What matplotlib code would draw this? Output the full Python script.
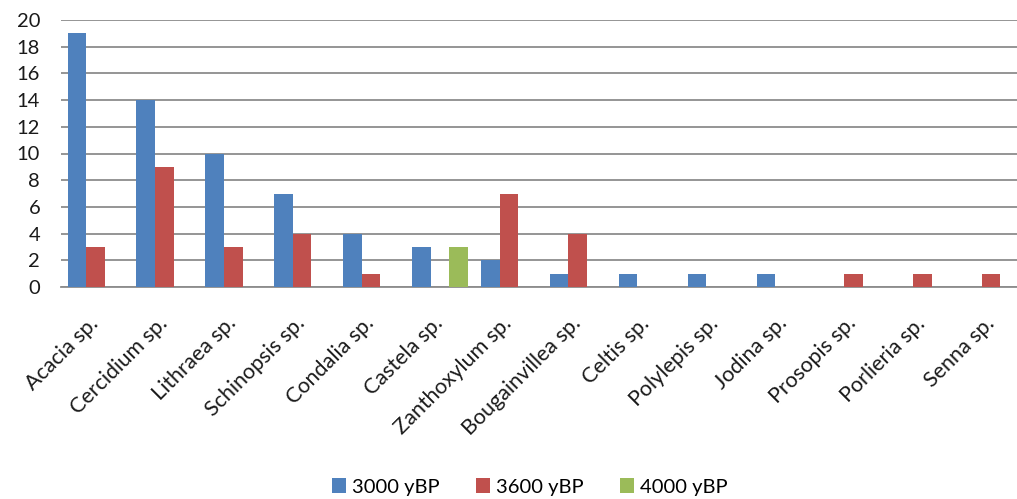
import numpy as np
import matplotlib.pyplot as plt

plt.rcParams['font.family'] = ['Lato', 'DejaVu Sans']

# Taxa and counts per period
taxa = ['Acacia sp.', 'Cercidium sp.', 'Lithraea sp.', 'Schinopsis sp.', 'Condalia sp.',
        'Castela sp.', 'Zanthoxylum sp.', 'Bougainvillea sp.', 'Celtis sp.', 'Polylepis sp.',
        'Jodina sp.', 'Prosopis sp.', 'Porlieria sp.', 'Senna sp.']
y3000 = [19, 14, 10, 7, 4, 3, 2, 1, 1, 1, 1, 0, 0, 0]
y3600 = [3, 9, 3, 4, 1, 0, 7, 4, 0, 0, 0, 1, 1, 1]
y4000 = [0, 0, 0, 0, 0, 3, 0, 0, 0, 0, 0, 0, 0, 0]

series = [('3000 yBP', y3000, '#4F81BD'),
          ('3600 yBP', y3600, '#C0504D'),
          ('4000 yBP', y4000, '#9BBB59')]

W, H = 1017, 499
fig = plt.figure(figsize=(W / 100, H / 100), dpi=100)
left, right, top, bottom = 61, 1017, 20, 287
ax = fig.add_axes([left / W, 1 - bottom / H, (right - left) / W, (bottom - top) / H])

x = np.arange(len(taxa))
bw = 0.27
for i, (name, vals, col) in enumerate(series):
    ax.bar(x + (i - 1) * bw, vals, width=bw, color=col, label=name, zorder=3)

ax.set_ylim(0, 20)
ax.set_yticks(range(0, 21, 2))
ax.set_xlim(-0.5, -0.5 + (right - left) / 68.9)
ax.yaxis.grid(True, color='#8c8c8c', linewidth=1.3, zorder=0)
ax.set_axisbelow(True)
for s in ['top', 'right', 'left']:
    ax.spines[s].set_visible(False)
ax.spines['bottom'].set_color('#8c8c8c')
ax.spines['bottom'].set_linewidth(1.3)

ax.tick_params(axis='y', length=0, pad=15, labelsize=14.5, labelcolor='#1a1a1a')
ax.tick_params(axis='x', length=0, pad=24, labelsize=15.5, labelcolor='#1a1a1a')
ax.set_xticks(x)
ax.set_xticklabels(taxa, rotation=45, ha='right', va='center', rotation_mode='anchor')

handles, labels = ax.get_legend_handles_labels()
fig.legend(handles, labels, loc='center', bbox_to_anchor=(530 / W, 1 - 487 / H),
           ncol=3, frameon=False, fontsize=14.5, handlelength=0.7, handleheight=0.7,
           handletextpad=0.3, columnspacing=1.8)

fig.savefig('out.png', dpi=100)
